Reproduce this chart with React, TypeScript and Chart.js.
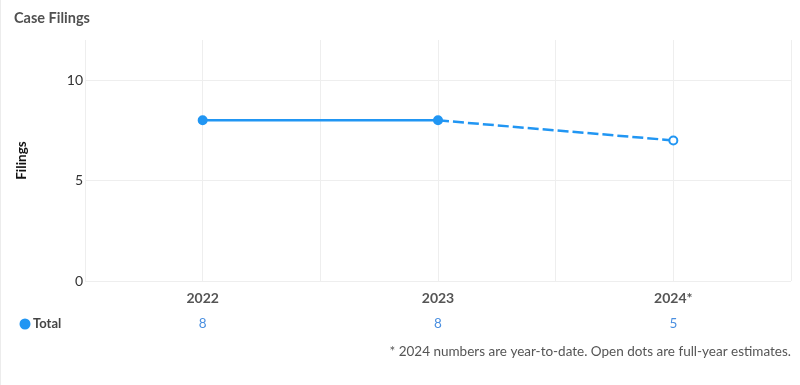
import React, { useEffect, useRef } from "react";
import { Chart, registerables } from "chart.js";

Chart.register(...registerables);

const categories = ["2022", "2023", "2024*"];
const lineValues = [8, 8, 7];
const isEstimate = [false, false, true];
const tableValues = [8, 8, 5];
const seriesName = "Total";
const chartTitle = "Case Filings";
const yTitle = "Filings";
const footnote = "* 2024 numbers are year-to-date. Open dots are full-year estimates.";

const BLUE = "#2196f3";
const FONT = "Lato, 'Noto Sans', sans-serif";

export default function App() {
  const ref = useRef<HTMLCanvasElement | null>(null);

  useEffect(() => {
    document.body.style.margin = "0";
    const canvas = ref.current;
    if (!canvas) return;

    const overlay = {
      id: "overlay",
      afterDraw(chart: any) {
        const ctx = chart.ctx;
        const xs = chart.scales.x;
        const area = chart.chartArea;
        ctx.save();
        // title
        ctx.font = `bold 14.5px ${FONT}`;
        ctx.fillStyle = "#505050";
        ctx.textAlign = "left";
        ctx.textBaseline = "middle";
        ctx.fillText(chartTitle, 14, 18);
        // table row
        const rowY = 324;
        ctx.beginPath();
        ctx.arc(25, rowY, 5.5, 0, Math.PI * 2);
        ctx.fillStyle = BLUE;
        ctx.fill();
        ctx.font = `bold 13px ${FONT}`;
        ctx.fillStyle = "#444";
        ctx.fillText(seriesName, 33, rowY);
        ctx.font = `13.5px ${FONT}`;
        ctx.fillStyle = "#4a8fe0";
        ctx.textAlign = "center";
        tableValues.forEach((v, i) => {
          ctx.fillText(String(v), xs.getPixelForValue(i), rowY);
        });
        // footnote
        ctx.font = `13.5px ${FONT}`;
        ctx.fillStyle = "#555";
        ctx.textAlign = "right";
        ctx.fillText(footnote, area.right, 352);
        ctx.restore();
      },
    };

    const chart = new Chart(canvas, {
      type: "line",
      data: {
        datasets: [
          {
            label: seriesName,
            data: categories.map((_, i) => ({ x: i, y: lineValues[i] })),
            borderColor: BLUE,
            borderWidth: 2.5,
            pointRadius: 4,
            pointHoverRadius: 4,
            pointBorderWidth: 2,
            pointBorderColor: BLUE,
            pointBackgroundColor: isEstimate.map((e) => (e ? "#ffffff" : BLUE)),
            fill: false,
            tension: 0,
            segment: {
              borderDash: (ctx: any) => (isEstimate[ctx.p1DataIndex] ? [11, 4] : undefined),
            },
          } as any,
        ],
      },
      plugins: [overlay],
      options: {
        animation: false,
        responsive: false,
        maintainAspectRatio: false,
        layout: { padding: { left: 0, right: 8, top: 40, bottom: 74 } },
        plugins: {
          legend: { display: false },
          tooltip: { enabled: false },
          title: { display: false },
        },
        scales: {
          x: {
            type: "linear",
            min: -0.5,
            max: categories.length - 0.5,
            afterFit: (s: any) => {
              s.height = 30;
            },
            grid: { color: "#eeeeee", drawTicks: false, lineWidth: 1 },
            border: { display: false },
            ticks: {
              stepSize: 0.5,
              autoSkip: false,
              maxRotation: 0,
              padding: 9,
              color: "#555",
              font: { family: FONT, size: 14, weight: "bold" },
              callback: (v: any) => {
                const n = Number(v);
                return Number.isInteger(n) && n >= 0 && n < categories.length ? categories[n] : "";
              },
            },
          },
          y: {
            type: "linear",
            min: 0,
            max: 12,
            afterFit: (s: any) => {
              s.width = 85;
            },
            grid: { color: "#eeeeee", drawTicks: false, lineWidth: 1 },
            border: { display: false },
            title: {
              display: true,
              text: yTitle,
              color: "#111",
              font: { family: FONT, size: 13.5, weight: "bold" },
              padding: { top: 14, bottom: 0 },
            },
            ticks: {
              stepSize: 5,
              includeBounds: false,
              padding: 2,
              color: "#333",
              font: { family: FONT, size: 14 },
            },
          },
        },
      } as any,
    });

    return () => chart.destroy();
  }, []);

  return (
    <div
      style={{
        position: "fixed",
        left: 0,
        top: 0,
        width: 800,
        height: 385,
        background: "#fff",
        borderLeft: "1px solid #ececec",
        boxSizing: "border-box",
      }}
    >
      <canvas ref={ref} width={800} height={385} style={{ position: "absolute", left: -1, top: 0, width: 800, height: 385 }} />
    </div>
  );
}
